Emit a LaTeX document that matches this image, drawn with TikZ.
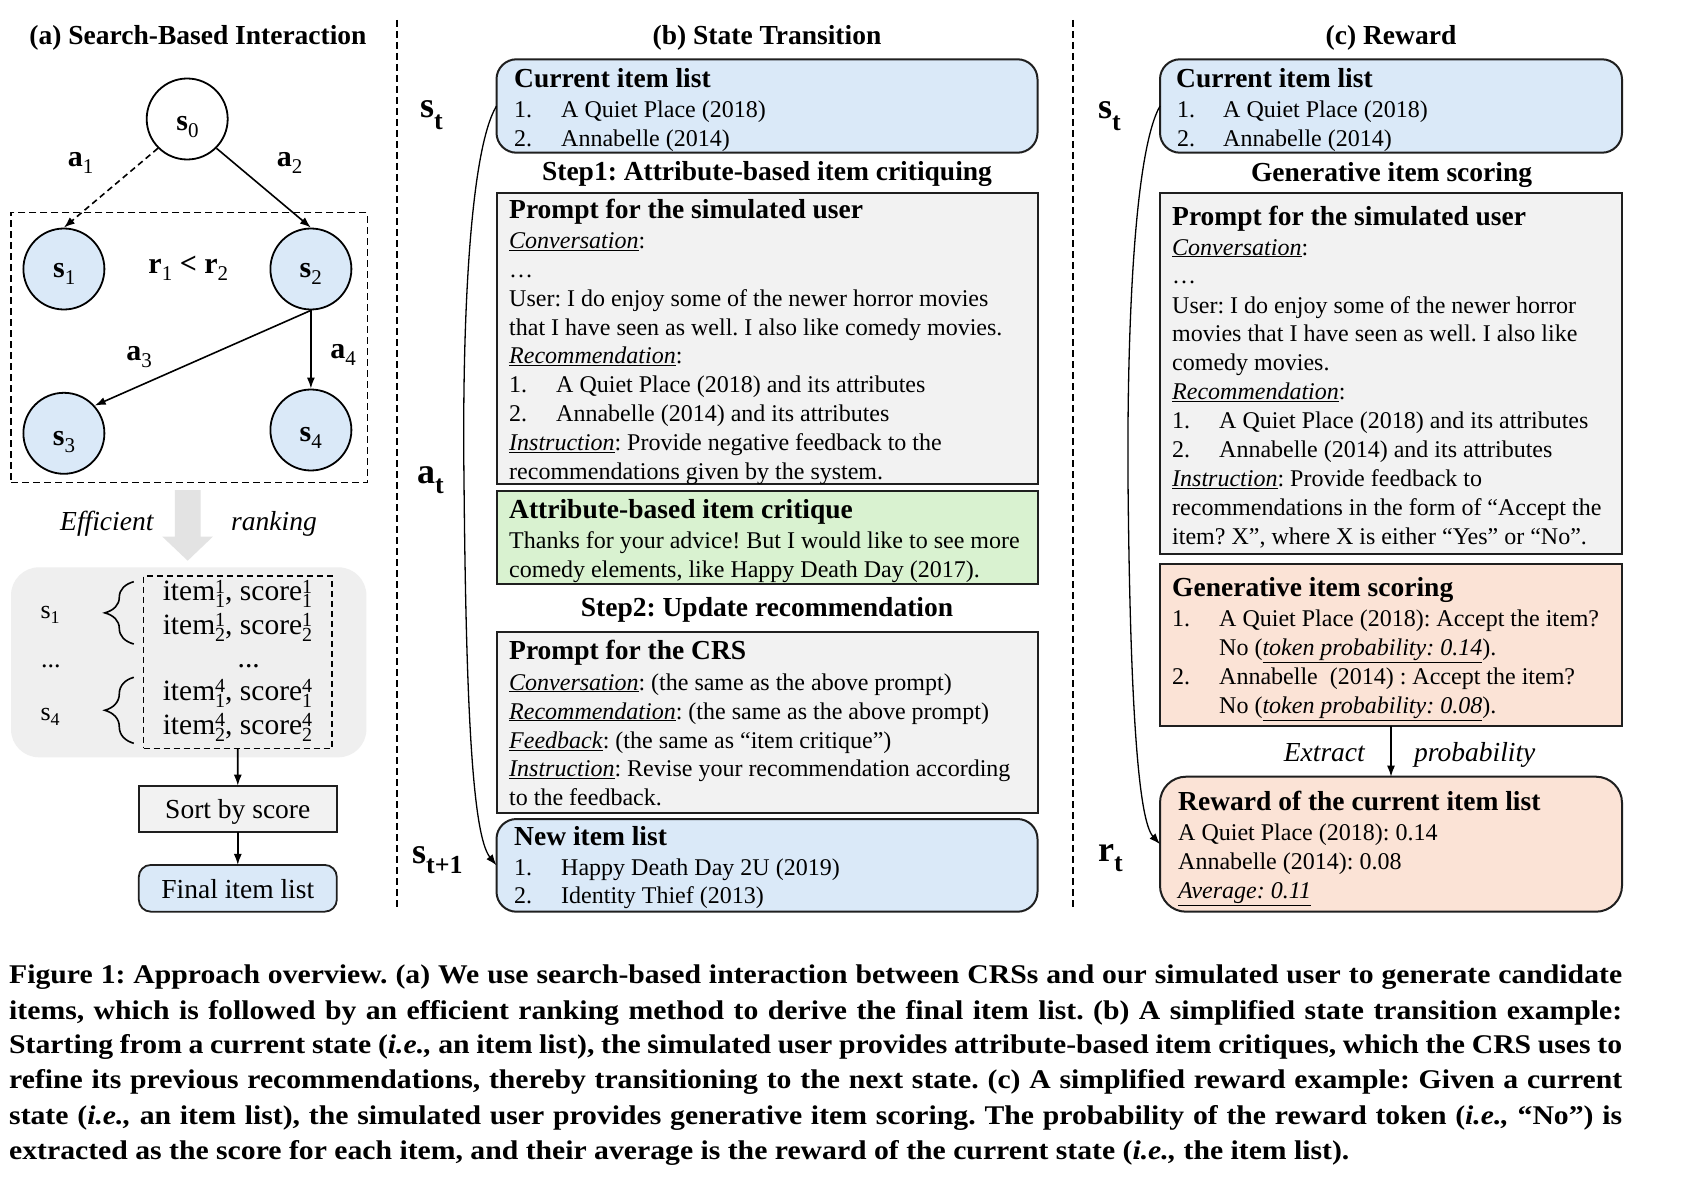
\documentclass[tikz,border=0pt]{standalone}
\usepackage{fontspec}
\setmainfont{Liberation Serif}
\newfontfamily\capfont{Liberation Serif}[FakeStretch=1.10]
\usetikzlibrary{decorations.pathreplacing,arrows.meta}
\definecolor{cblue}{HTML}{DAE9F8}
\definecolor{cgray}{HTML}{F2F2F2}
\definecolor{cgreen}{HTML}{D9F2D0}
\definecolor{cpeach}{HTML}{FBE3D6}
\definecolor{cbg}{HTML}{EFEFEF}
\definecolor{carrow}{HTML}{E3E3E3}
\newcommand\fbody{\fontsize{24}{29}\selectfont}
\newcommand\fhead{\fontsize{27.5}{33}\selectfont\bfseries}
\newcommand\fmid{\fontsize{27.5}{33}\selectfont}
\newcommand\flab{\fontsize{36}{40}\selectfont\bfseries}
\newcommand\ftree{\fontsize{30}{34}\selectfont\bfseries}
\newcommand\fcap{\capfont\fontsize{27}{35}\selectfont\bfseries\frenchspacing}
\newcommand\lsub[3]{#1\raisebox{#3}{\fontsize{26}{26}\selectfont #2}}
\newcommand\tsub[2]{#1\raisebox{-7pt}{\fontsize{21}{21}\selectfont\mdseries #2}}
\newcommand\gsub[2]{#1\raisebox{-5pt}{\fontsize{18}{18}\selectfont #2}}
\newcommand\supsb[2]{\rlap{\raisebox{7.5pt}{\fontsize{20}{20}\selectfont #1}}\raisebox{-7pt}{\fontsize{20}{20}\selectfont #2}}
\newcommand\ul[1]{\underline{\textit{#1}}}
\newcommand\numi[1]{\makebox[47pt][l]{#1}}
\newcommand\capline[1]{\makebox[1613pt][s]{#1}}
\tikzset{
 bx/.style={draw=black!88, line width=2pt, inner sep=0pt, outer sep=0pt},
 blueb/.style={bx, fill=cblue, rounded corners=20pt},
 grayb/.style={bx, fill=cgray},
 greenb/.style={bx, fill=cgreen},
 peachb/.style={bx, fill=cpeach},
 peachr/.style={bx, fill=cpeach, rounded corners=26pt},
 tx/.style={anchor=base west, inner sep=0pt, font=\fbody},
 hd/.style={anchor=base west, inner sep=0pt, font=\fhead},
 ttl/.style={anchor=base, inner sep=0pt, font=\fhead},
 stlab/.style={anchor=base west, inner sep=0pt, font=\flab},
 trlab/.style={anchor=base, inner sep=0pt, font=\ftree},
 capstyle/.style={anchor=base west, inner sep=0pt, font=\fcap},
 arr/.style={-{Latex[length=11pt,width=8pt]}, line width=1.6pt},
 sepl/.style={line width=1.5pt, dash pattern=on 7pt off 4pt},
 stnode/.style={circle, draw=black, line width=1.8pt, minimum size=81pt, inner sep=0pt, fill=cblue},
}
\begin{document}
\frenchspacing
\begin{tikzpicture}[x=1pt,y=-1pt]
\fill[white] (0,0) rectangle (1698,1180);
\useasboundingbox (0,0) rectangle (1698,1180);

% separators
\draw[sepl] (397,20) -- (397,907);
\draw[sepl] (1073,20) -- (1073,907);

% ================= (a) =================
\node[ttl] (ta) at (198,45) {(a) Search-Based Interaction};
\node[draw=black, line width=1.5pt, dash pattern=on 7pt off 4pt, minimum width=356.4pt, minimum height=269.6pt, inner sep=0pt] (treebox) at (189.2,347.5) {};
\node[stnode, fill=white] (s0) at (187.2,119) {};
\node[stnode] (s1) at (63.9,269) {};
\node[stnode] (s2) at (310.9,269) {};
\node[stnode] (s3) at (63.9,433.3) {};
\node[stnode] (s4) at (310.9,430) {};
\node[trlab] (s0l) at (187.5,130.7) {\tsub{s}{0}};
\node[trlab] (s1l) at (64.2,277.3) {\tsub{s}{1}};
\node[trlab] (s2l) at (310.7,277.3) {\tsub{s}{2}};
\node[trlab] (s3l) at (64,445) {\tsub{s}{3}};
\node[trlab] (s4l) at (310.7,441.7) {\tsub{s}{4}};
\draw[arr, dash pattern=on 6pt off 4pt] (s0.225) -- (s1.north);
\draw[arr] (s0.-45) -- (s2.north);
\draw[arr] (s2.south) -- (s3.42);
\draw[arr] (s2.south) -- (s4.north);
\node[trlab] (a1l) at (80.5,166.7) {\tsub{a}{1}};
\node[trlab] (a2l) at (289.5,166.7) {\tsub{a}{2}};
\node[trlab] (rl) at (188.3,273.3) {\tsub{r}{1} < \tsub{r}{2}};
\node[trlab] (a3l) at (139,360.7) {\tsub{a}{3}};
\node[trlab] (a4l) at (343,358.3) {\tsub{a}{4}};

% efficient ranking arrow
\fill[carrow] (174.8,490) -- (200.7,490) -- (200.7,536.7) -- (212.8,536.7) -- (187.7,560.7) -- (162.4,536.7) -- (174.8,536.7) -- cycle;
\node[anchor=base west, inner sep=0pt, font=\fmid\itshape] (eff) at (60,530) {Efficient};
\node[anchor=base west, inner sep=0pt, font=\fmid\itshape] (rank) at (231,530) {ranking};

\node[fill=cbg, rounded corners=28pt, minimum width=355.4pt, minimum height=190pt, inner sep=0pt] (rankbg) at (188.7,662.3) {};
\node[draw=black, line width=1.5pt, dash pattern=on 6pt off 4pt, minimum width=188.5pt, minimum height=172.3pt, inner sep=0pt] (itemsbox) at (237.75,662.15) {};
\node[anchor=base west, inner sep=0pt, font=\fontsize{26}{30}\selectfont] (g1) at (40.3,618) {\gsub{s}{1}};
\node[anchor=base west, inner sep=0pt, font=\fontsize{26}{30}\selectfont] (gd) at (41,667) {...};
\node[anchor=base west, inner sep=0pt, font=\fontsize{26}{30}\selectfont] (g4) at (40.3,720.7) {\gsub{s}{4}};
\draw[line width=1.6pt, decorate, decoration={brace, amplitude=29pt}] (133.8,644) -- (133.8,581.7);
\draw[line width=1.6pt, decorate, decoration={brace, amplitude=29pt}] (133.8,743.3) -- (133.8,677.3);
\begin{scope}[every node/.style={anchor=base, inner sep=0pt, font=\fontsize{29.5}{32}\selectfont}]
\node (i1) at (237.5,600.7) {item\supsb{1}{1}, score\supsb{1}{1}};
\node (i2) at (237.5,634) {item\supsb{1}{2}, score\supsb{1}{2}};
\node (i3) at (248.7,667) {...};
\node (i4) at (237.5,700) {item\supsb{4}{1}, score\supsb{4}{1}};
\node (i5) at (237.5,734) {item\supsb{4}{2}, score\supsb{4}{2}};
\end{scope}
\node[grayb, line width=1.8pt, minimum width=198pt, minimum height=46pt] (sortb) at (237.8,808.7) {};
\node[anchor=base, inner sep=0pt, font=\fmid] (sortt) at (237.8,818.3) {Sort by score};
\node[blueb, line width=1.8pt, rounded corners=12pt, minimum width=198pt, minimum height=46.7pt] (finalb) at (237.8,888.3) {};
\node[anchor=base, inner sep=0pt, font=\fmid] (finalt) at (237.8,898.3) {Final item list};
\draw[arr] (itemsbox.south) -- (sortb.north);
\draw[arr] (sortb.south) -- (finalb.north);

% ================= (b) =================
\node[ttl] (tb) at (767,45) {(b) State Transition};
\node[blueb, minimum width=541pt, minimum height=93.4pt] (curB) at (767,106) {};
\node[hd] (curBh) at (514,87.3) {Current item list};
\node[tx] (curB1) at (514,117.3) {\numi{1.}A Quiet Place (2018)};
\node[tx] (curB2) at (514,146.7) {\numi{2.}Annabelle (2014)};
\node[ttl] (step1) at (767,180) {Step1: Attribute-based item critiquing};

\node[grayb, minimum width=541pt, minimum height=291.6pt] (promB) at (767,338.5) {};
\node[hd] (pBh) at (509,218.3) {Prompt for the simulated user};
\node[tx] (pB1) at (509,248.3) {\ul{Conversation}:};
\node[tx] (pB2) at (509,277.2) {…};
\node[tx] (pB3) at (509,306.1) {User: I do enjoy some of the newer horror movies};
\node[tx] (pB4) at (509,335) {that I have seen as well. I also like comedy movies.};
\node[tx] (pB5) at (509,363.9) {\ul{Recommendation}:};
\node[tx] (pB6) at (509,392.8) {\numi{1.}A Quiet Place (2018) and its attributes};
\node[tx] (pB7) at (509,421.7) {\numi{2.}Annabelle (2014) and its attributes};
\node[tx] (pB8) at (509,450.6) {\ul{Instruction}: Provide negative feedback to the};
\node[tx] (pB9) at (509,479.5) {recommendations given by the system.};

\node[greenb, minimum width=541pt, minimum height=93.6pt] (critB) at (767,537.5) {};
\node[hd] (cBh) at (509,518.3) {Attribute-based item critique};
\node[tx] (cB1) at (509,548.3) {Thanks for your advice! But I would like to see more};
\node[tx] (cB2) at (509,577.3) {comedy elements, like Happy Death Day (2017).};

\node[ttl] (step2) at (767,616.7) {Step2: Update recommendation};
\node[grayb, minimum width=541pt, minimum height=181pt] (crsB) at (767,722.2) {};
\node[hd] (rBh) at (509,659) {Prompt for the CRS};
\node[tx] (rB1) at (509,690) {\ul{Conversation}: (the same as the above prompt)};
\node[tx] (rB2) at (509,719) {\ul{Recommendation}: (the same as the above prompt)};
\node[tx] (rB3) at (509,748.3) {\ul{Feedback}: (the same as “item critique”)};
\node[tx] (rB4) at (509,776.7) {\ul{Instruction}: Revise your recommendation according};
\node[tx] (rB5) at (509,805) {to the feedback.};

\node[blueb, minimum width=541pt, minimum height=92.7pt] (newB) at (767,865.35) {};
\node[hd] (nBh) at (514,845) {New item list};
\node[tx] (nB1) at (514,875) {\numi{1.}Happy Death Day 2U (2019)};
\node[tx] (nB2) at (514,903.3) {\numi{2.}Identity Thief (2013)};

\node[stlab] (stB) at (420,118) {\lsub{s}{t}{-12pt}};
\node[stlab] (atB) at (417,483) {\lsub{a}{t}{-10pt}};
\node[stlab] (st1B) at (412,863) {\lsub{s}{t+1}{-10pt}};
\draw[arr, line width=1.3pt] (curB.west) .. controls (470,150) and (462,320) .. (464,480) .. controls (466,700) and (472,835) .. (newB.west);

% ================= (c) =================
\node[ttl] (tc) at (1391,45) {(c) Reward};
\node[blueb, minimum width=462pt, minimum height=93.4pt] (curC) at (1391,106) {};
\node[hd] (curCh) at (1176,87.3) {Current item list};
\node[tx] (curC1) at (1177,117.3) {\makebox[46pt][l]{1.}A Quiet Place (2018)};
\node[tx] (curC2) at (1177,146.7) {\makebox[46pt][l]{2.}Annabelle (2014)};
\node[ttl] (gis) at (1391.5,181.7) {Generative item scoring};

\node[grayb, minimum width=462pt, minimum height=361.6pt] (promC) at (1391,373.5) {};
\node[hd] (pCh) at (1172,225) {Prompt for the simulated user};
\node[tx] (pC1) at (1172,255) {\ul{Conversation}:};
\node[tx] (pC2) at (1172,283) {…};
\node[tx] (pC3) at (1172,313.3) {User: I do enjoy some of the newer horror};
\node[tx] (pC4) at (1172,341.7) {movies that I have seen as well. I also like};
\node[tx] (pC5) at (1172,370) {comedy movies.};
\node[tx] (pC6) at (1172,399.3) {\ul{Recommendation}:};
\node[tx] (pC7) at (1172,428.3) {\numi{1.}A Quiet Place (2018) and its attributes};
\node[tx] (pC8) at (1172,457.3) {\numi{2.}Annabelle (2014) and its attributes};
\node[tx] (pC9) at (1172,486.7) {\ul{Instruction}: Provide feedback to};
\node[tx] (pC10) at (1172,515) {recommendations in the form of “Accept the};
\node[tx] (pC11) at (1172,544) {item? X”, where X is either “Yes” or “No”.};

\node[peachb, minimum width=462pt, minimum height=162pt] (scoreC) at (1391,645) {};
\node[hd] (sCh) at (1172,596.7) {Generative item scoring};
\node[tx] (sC1) at (1172,626.7) {\numi{1.}A Quiet Place (2018): Accept the item?};
\node[tx] (sC2) at (1172,655.7) {\numi{}No (\ul{token probability: 0.14}).};
\node[tx] (sC3) at (1172,684) {\numi{2.}Annabelle~ (2014) : Accept the item?};
\node[tx] (sC4) at (1172,713.3) {\numi{}No (\ul{token probability: 0.08}).};

\node[peachr, minimum width=462pt, minimum height=135pt] (rewC) at (1391,844.2) {};
\node[hd] (wCh) at (1178,810) {Reward of the current item list};
\node[tx] (wC1) at (1178,840) {A Quiet Place (2018): 0.14};
\node[tx] (wC2) at (1178,869.3) {Annabelle (2014): 0.08};
\node[tx] (wC3) at (1178,898.3) {\ul{Average: 0.11}};
\draw[arr] (scoreC.south) -- (rewC.north);
\node[anchor=base east, inner sep=0pt, font=\fmid\itshape] (extr) at (1365,761.7) {Extract};
\node[anchor=base west, inner sep=0pt, font=\fmid\itshape] (prob) at (1414,761.7) {probability};

\node[stlab] (stC) at (1098,118.3) {\lsub{s}{t}{-12pt}};
\node[stlab] (rtC) at (1098,861.7) {\lsub{r}{t}{-10pt}};
\draw[arr, line width=1.3pt] (curC.west) .. controls (1135,150) and (1127,320) .. (1128,480) .. controls (1130,700) and (1138,820) .. (rewC.west);

% ================= caption =================
\node[capstyle] (cap1) at (9,983.3) {\capline{Figure 1: Approach overview. (a) We use search-based interaction between CRSs and our simulated user to generate candidate}};
\node[capstyle] (cap2) at (9,1019.3) {\capline{items, which is followed by an efficient ranking method to derive the final item list. (b) A simplified state transition example:}};
\node[capstyle] (cap3) at (9,1053.3) {\capline{Starting from a current state (\textit{i.e.,} an item list), the simulated user provides attribute-based item critiques, which the CRS uses to}};
\node[capstyle] (cap4) at (9,1088.3) {\capline{refine its previous recommendations, thereby transitioning to the next state. (c) A simplified reward example: Given a current}};
\node[capstyle] (cap5) at (9,1124) {\capline{state (\textit{i.e.,} an item list), the simulated user provides generative item scoring. The probability of the reward token (\textit{i.e.,} “No”) is}};
\node[capstyle] (cap6) at (9,1159.3) {extracted as the score for each item, and their average is the reward of the current state (\textit{i.e.,} the item list).};
\end{tikzpicture}
\end{document}
